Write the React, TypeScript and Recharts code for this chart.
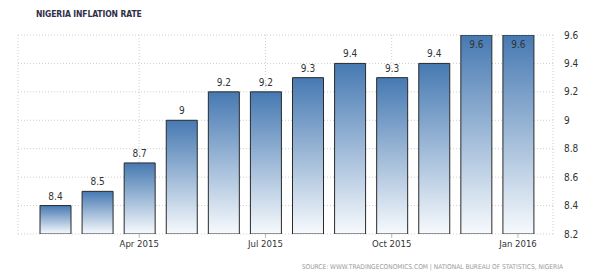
import React from 'react';
import { BarChart, Bar, XAxis, YAxis, CartesianGrid, LabelList } from 'recharts';

const months = [
  'Feb 2015', 'Mar 2015', 'Apr 2015', 'May 2015', 'Jun 2015', 'Jul 2015',
  'Aug 2015', 'Sep 2015', 'Oct 2015', 'Nov 2015', 'Dec 2015', 'Jan 2016',
];
const rates = [8.4, 8.5, 8.7, 9.0, 9.2, 9.2, 9.3, 9.4, 9.3, 9.4, 9.6, 9.6];
const xTicks = ['Apr 2015', 'Jul 2015', 'Oct 2015', 'Jan 2016'];
const yTicks = [8.2, 8.4, 8.6, 8.8, 9.0, 9.2, 9.4, 9.6];

const data = months.map((m, i) => ({ month: m, rate: rates[i] }));

const FONT = '"DejaVu Sans Condensed", "DejaVu Sans", Verdana, sans-serif';

// value labels: above the bar, or inside it when the bar hits the top
const renderLabel = (props: any) => {
  const { x, y, width, value } = props;
  const inside = y < 45;
  return (
    <text
      x={x + width / 2}
      y={inside ? y + 13 : y - 6}
      textAnchor="middle"
      fontSize={10}
      fontFamily={FONT}
      fill="#333"
    >
      {value}
    </text>
  );
};

const App: React.FC = () => {
  return (
    <div style={{ position: 'fixed', top: 0, left: 0, width: 600, height: 279, background: '#fff' }}>
      <div
        style={{
          position: 'absolute', left: 36, top: 9, fontFamily: FONT, fontSize: 8.5,
          fontWeight: 'bold', color: '#2e2e48', letterSpacing: -0.1,
        }}
      >
        NIGERIA INFLATION RATE
      </div>
      <BarChart
        width={600}
        height={279}
        data={data}
        margin={{ top: 35, right: 0, bottom: 25, left: 18 }}
        barSize={31}
      >
        <defs>
          <linearGradient id="barFill" x1="0" y1="0" x2="0" y2="1">
            <stop offset="0%" stopColor="#4679b2" />
            <stop offset="100%" stopColor="#f7fafd" />
          </linearGradient>
        </defs>
        <CartesianGrid stroke="#cfcfcf" strokeDasharray="1 2" />
        <XAxis
          dataKey="month"
          ticks={xTicks}
          interval={0}
          height={20}
          padding={{ left: 16, right: 14 }}
          axisLine={false}
          tickSize={4}
          tickLine={{ stroke: '#bbb' }}
          tick={{ fontSize: 9.5, fill: '#333', fontFamily: FONT }}
          tickMargin={2}
        />
        <YAxis
          orientation="right"
          width={47}
          domain={[8.2, 9.6]}
          ticks={yTicks}
          tickFormatter={(v: number) => String(Math.round(v * 10) / 10)}
          axisLine={false}
          tickLine={false}
          tickMargin={5}
          tick={{ fontSize: 10, fill: '#333', fontFamily: FONT, textAnchor: 'start' }}
          allowDataOverflow
        />
        <Bar
          dataKey="rate"
          fill="url(#barFill)"
          stroke="#2a2a2a"
          strokeWidth={1}
          isAnimationActive={false}
        >
          <LabelList dataKey="rate" content={renderLabel} />
        </Bar>
      </BarChart>
      <div
        style={{
          position: 'absolute', right: 37, top: 263, fontFamily: FONT, fontSize: 6.6,
          color: '#9a9a9a',
        }}
      >
        SOURCE: WWW.TRADINGECONOMICS.COM | NATIONAL BUREAU OF STATISTICS, NIGERIA
      </div>
    </div>
  );
};

export default App;
